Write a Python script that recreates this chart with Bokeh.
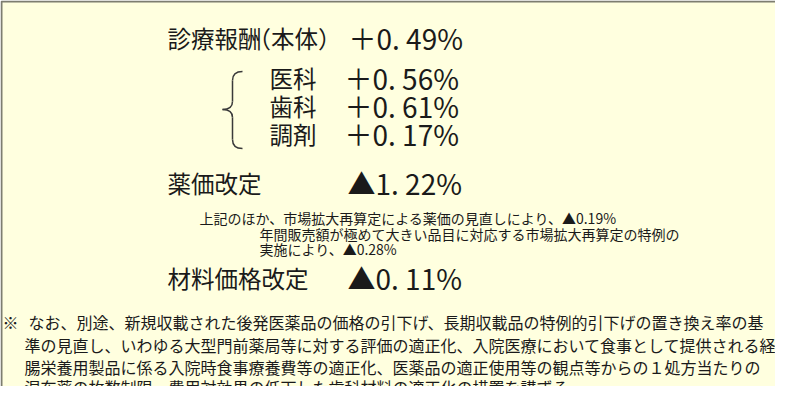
from bokeh.plotting import figure
from bokeh.models import Range1d, ColumnDataSource
from bokeh.core.properties import value
from bokeh.embed import file_html
from bokeh.resources import INLINE

# ---------------- data ----------------
head_label = "診療報酬（本体）"
head_rate = 0.49
sub_labels = ["医科", "歯科", "調剤"]
sub_rates = [0.56, 0.61, 0.17]
drug_label = "薬価改定"
drug_rate = -1.22
drug_notes = [
    "上記のほか、市場拡大再算定による薬価の見直しにより、▲0.19%",
    "年間販売額が極めて大きい品目に対応する市場拡大再算定の特例の",
    "実施により、▲0.28%",
]
mat_label = "材料価格改定"
mat_rate = -0.11
footnote_mark = "※"
footnote_lines = [
    "なお、別途、新規収載された後発医薬品の価格の引下げ、長期収載品の特例的引下げの置き換え率の基",
    "準の見直し、いわゆる大型門前薬局等に対する評価の適正化、入院医療において食事として提供される経",
    "腸栄養用製品に係る入院時食事療養費等の適正化、医薬品の適正使用等の観点等からの１処方当たりの",
    "湿布薬の枚数制限、費用対効果の低下した歯科材料の適正化の措置を講ずる。",
]


def fmt(r):
    sign = "＋" if r >= 0 else "▲"
    a, b = f"{abs(r):.2f}".split(".")
    return f"{sign}{a}. {b}%"


# ---------------- layout (page pixel coordinates) ----------------
FONT = value("Noto Sans CJK JP")
INK = "#1a1a1a"
BG = "#FFFFDF"

p = figure(width=775, height=386, output_backend="svg", toolbar_location=None,
           x_range=Range1d(8, 783), y_range=Range1d(394, 8), min_border=0)
p.axis.visible = False
p.grid.visible = False
p.outline_line_color = None
p.background_fill_color = "white"
p.border_fill_color = "white"

# frame box
p.quad(left=[9], right=[820], top=[9], bottom=[430], fill_color=BG,
       line_color="#7d7d70", line_width=2)

# heading rows
main_part, paren_part = head_label.split("（")
paren_part = "（" + paren_part
lab = ColumnDataSource(dict(
    x=[175, 255, 277, 277, 277, 175, 175],
    y=[45, 45, 85, 113, 141, 190, 285],
    t=[main_part, paren_part] + sub_labels + [drug_label, mat_label],
))
p.text("x", "y", text="t", source=lab, text_font=FONT, text_font_size="23.5px",
       text_color=INK, text_baseline="middle", text_align="left")

vals = ColumnDataSource(dict(
    x=[356, 352, 352, 352, 355, 355],
    y=[45, 85, 113, 141, 190, 285],
    t=[fmt(head_rate)] + [fmt(r) for r in sub_rates] + [fmt(drug_rate), fmt(mat_rate)],
))
p.text("x", "y", text="t", source=vals, text_font=FONT, text_font_size="28px",
       text_color=INK, text_baseline="middle", text_align="left")

# brace
bx, tip, rx = 240, 230, 250
p.quadratic(x0=[rx, bx, tip, bx], y0=[79, 109, 117, 147],
            x1=[bx, tip, bx, rx], y1=[88, 117, 125, 156],
            cx=[bx, bx, bx, bx], cy=[79, 117, 117, 156],
            line_color="#3a3a3a", line_width=1.5)
p.segment(x0=[bx, bx], y0=[88, 125], x1=[bx, bx], y1=[109, 147],
          line_color="#3a3a3a", line_width=1.5)

# notes under 薬価改定
notes = ColumnDataSource(dict(x=[207, 267, 267], y=[225, 241, 256], t=drug_notes))
p.text("x", "y", text="t", source=notes, text_font=FONT, text_font_size="14px",
       text_color=INK, text_baseline="middle", text_align="left")

# footnote
p.text(x=[10], y=[329], text=[footnote_mark], text_font=FONT, text_font_size="16px",
       text_color=INK, text_baseline="middle", text_align="left")
foot = ColumnDataSource(dict(x=[36, 32, 32, 32], y=[329, 352, 374, 394], t=footnote_lines))
p.text("x", "y", text="t", source=foot, text_font=FONT, text_font_size="16px",
       text_color=INK, text_baseline="middle", text_align="left")

open("out.html", "w").write(file_html(p, INLINE))
